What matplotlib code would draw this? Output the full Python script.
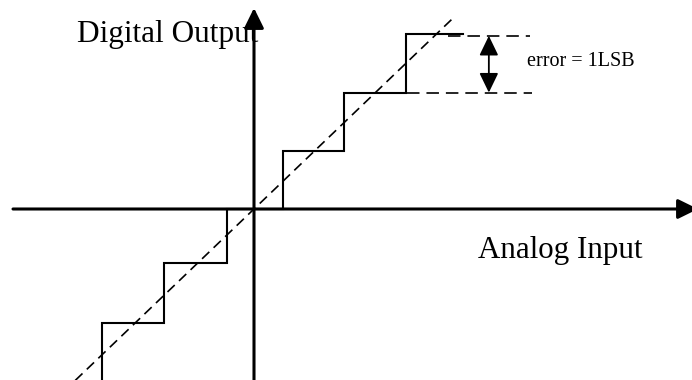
import matplotlib
matplotlib.use("Agg")
import matplotlib.pyplot as plt

plt.rcParams['lines.scale_dashes'] = False
plt.rcParams['font.family'] = ['Liberation Serif', 'DejaVu Serif']

# Data (in LSB units)
thresholds = [-2.49, -1.475, -0.44, 0.475, 1.475, 2.49]   # input transition points
codes = [-3.0, -1.95, -0.92, 0.0, 0.99, 1.98, 2.99]        # output levels
stair_right = 3.43
ideal_x = [-2.93, 3.25]
err_upper, err_lower = 2.96, 1.99
axis_labels = ["Digital Output", "Analog Input"]
err_label = "error = 1LSB"

fig = plt.figure(figsize=(6.92, 3.80), dpi=100)
ax = fig.add_axes([0, 0, 1, 1])
ax.set_xlim(-254/61, (692-254)/61)
ax.set_ylim(-171/58.5, 209/58.5)
ax.axis('off')

# staircase path
xs = [thresholds[0]]
ys = [codes[0]]
for i, t in enumerate(thresholds):
    xs += [t, t]
    ys += [codes[i], codes[i+1]]
    nxt = thresholds[i+1] if i+1 < len(thresholds) else stair_right
    xs.append(nxt)
    ys.append(codes[i+1])
ax.plot(xs, ys, color='black', lw=1.5, solid_joinstyle='miter', zorder=3)

# ideal line
ax.plot(ideal_x, ideal_x, color='black', lw=1.2, dashes=(7.2, 4.3), zorder=3)

# error dashed lines
ax.plot([3.18, 4.52], [err_upper, err_upper], color='black', lw=1.2, dashes=(9, 5))
ax.plot([2.5, 4.56], [err_lower, err_lower], color='black', lw=1.2, dashes=(9, 5))

# double arrow
ax.annotate('', xy=(3.85, err_upper), xytext=(3.85, err_lower),
            arrowprops=dict(arrowstyle='<|-|>,head_length=1.2,head_width=0.58',
                            mutation_scale=10, color='black', lw=1.3,
                            shrinkA=0, shrinkB=0))

# axes arrows
ax.annotate('', xy=(0, (209-8)/58.5), xytext=(0, -3.1),
            arrowprops=dict(arrowstyle='-|>,head_length=1.22,head_width=0.6',
                            mutation_scale=10, color='black', lw=2.2,
                            shrinkA=0, shrinkB=0), annotation_clip=False)
ax.annotate('', xy=((698-254)/61, 0), xytext=((13-254)/61, 0),
            arrowprops=dict(arrowstyle='-|>,head_length=1.22,head_width=0.6',
                            mutation_scale=10, color='black', lw=2.2,
                            shrinkA=0, shrinkB=0), annotation_clip=False)

ax.text((77-254)/61, (209-42)/58.5, axis_labels[0], fontsize=22.5, va='baseline', ha='left')
ax.text((478-254)/61, (209-258)/58.5, axis_labels[1], fontsize=22.3, va='baseline', ha='left')
ax.text((527-254)/61, (209-66)/58.5, err_label, fontsize=14.5, va='baseline', ha='left')

fig.savefig('out.png', dpi=100)
